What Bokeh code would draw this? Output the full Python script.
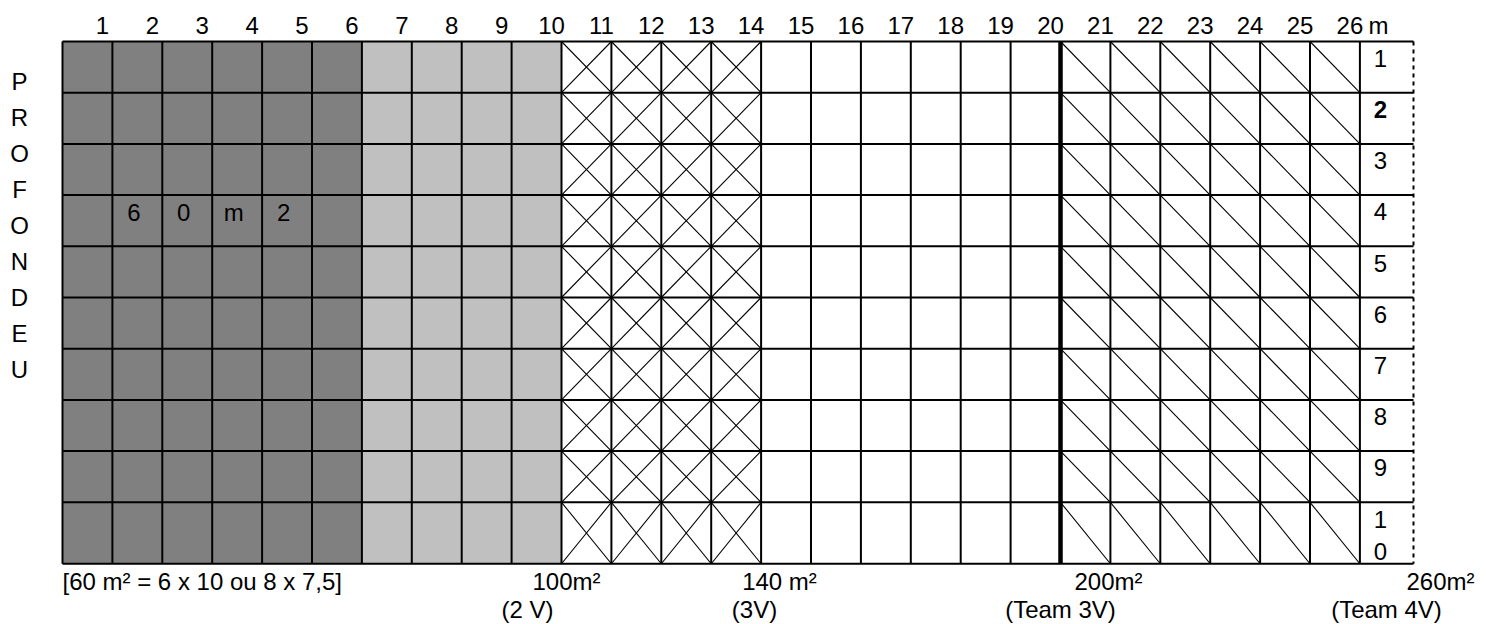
from bokeh.plotting import figure
from bokeh.models import Range1d
from bokeh.core.properties import value
from bokeh.embed import file_html
from bokeh.resources import INLINE

# ---------------- data ----------------
column_labels = [str(i) for i in range(1, 27)]
unit_label = "m"
zone_widths = [6, 4, 4, 6, 6]                      # columns per zone
zone_patterns = ["dark", "light", "cross", "plain", "diag"]
zone_colors = {"dark": "#808080", "light": "#C0C0C0", "cross": "#FFFFFF",
               "plain": "#FFFFFF", "diag": "#FFFFFF"}
depth_labels = [str(i) for i in range(1, 11)]
depth_bold = [False, True, False, False, False, False, False, False, False, False]
side_letters = list("PROFONDEU")
inner_chars = ["6", "0", "m", "2"]
area_labels = ["[60 m² = 6 x 10 ou 8 x 7,5]", "100m²", "140 m²", "200m²", "260m²"]
team_labels = ["(2 V)", "(3V)", "(Team 3V)", "(Team 4V)"]

# ---------------- layout ----------------
OFF = 0            # page offset of the figure (Bokeh template has no body margin)
W, H = 1486, 624
COLW, ROWH = 49.9, 51.2
LEFT, TOP = 62, 41
FONT = value("Liberation Sans")
FS = "24px"

n_cols = sum(zone_widths)
row_heights = [1.0] * 9 + [1.2]
row_edges = [0.0]
for h in row_heights:
    row_edges.append(row_edges[-1] + h)
bottom = row_edges[-1]
label_right = (1413 - LEFT) / COLW

def px_x(px):
    return (px - LEFT) / COLW

def px_y(py):
    return (py - TOP) / ROWH

p = figure(width=W, height=H, output_backend="svg", toolbar_location=None,
           x_range=Range1d(px_x(OFF), px_x(OFF + W)),
           y_range=Range1d(px_y(OFF + H), px_y(OFF)),
           x_axis_type=None, y_axis_type=None, min_border=0,
           outline_line_color=None, background_fill_color="white",
           border_fill_color="white")
p.xgrid.visible = False
p.ygrid.visible = False

# column pattern per column
col_pattern = []
for z, w in zip(zone_patterns, zone_widths):
    col_pattern += [z] * w

# fills
p.quad(left=list(range(n_cols)), right=[i + 1 for i in range(n_cols)],
       top=[0] * n_cols, bottom=[bottom] * n_cols,
       fill_color=[zone_colors[z] for z in col_pattern], line_color=None)

# diagonals
x0s, y0s, x1s, y1s = [], [], [], []
for i, z in enumerate(col_pattern):
    for r in range(len(row_heights)):
        t, b = row_edges[r], row_edges[r + 1]
        if z in ("cross", "diag"):
            x0s.append(i); y0s.append(t); x1s.append(i + 1); y1s.append(b)
        if z == "cross":
            x0s.append(i); y0s.append(b); x1s.append(i + 1); y1s.append(t)
p.segment(x0=x0s, y0=y0s, x1=x1s, y1=y1s, line_color="black", line_width=1.1)

# horizontal grid lines
p.segment(x0=[0] * len(row_edges), y0=row_edges,
          x1=[label_right] * len(row_edges), y1=row_edges,
          line_color="black", line_width=2)
# vertical grid lines
vx = list(range(n_cols + 1))
p.segment(x0=vx, y0=[0] * len(vx), x1=vx, y1=[bottom] * len(vx),
          line_color="black", line_width=2)
# thick separator at the 200 m² boundary
sep = sum(zone_widths[:4])
p.segment(x0=[sep], y0=[0], x1=[sep], y1=[bottom], line_color="black", line_width=4.5)
# dotted right edge
p.segment(x0=[label_right], y0=[0], x1=[label_right], y1=[bottom],
          line_color="black", line_width=2, line_dash="4 4")

def txt(xs, ys, texts, align="center", style="normal"):
    p.text(x=xs, y=ys, text=texts, text_font=FONT, text_font_size=FS,
           text_font_style=style, text_align=align, text_baseline="middle",
           text_color="black")

# top column labels
txt([i + 1 - 0.2 for i in range(n_cols)], [px_y(25)] * n_cols, column_labels)
txt([px_x(1378)], [px_y(25)], [unit_label])

# side letters
txt([px_x(19)] * len(side_letters),
    [px_y(81) + i * 36 / ROWH for i in range(len(side_letters))], side_letters)

# inner "6 0 m 2"
txt([1.43 + i for i in range(len(inner_chars))], [px_y(212)] * len(inner_chars), inner_chars)

# depth labels in the right column
dx, dy, dt, dstyle = [], [], [], []
for r, (lab, bold) in enumerate(zip(depth_labels, depth_bold)):
    for k, ch in enumerate(lab):
        dx.append(px_x(1380))
        dy.append(row_edges[r] + 0.33 + k * 32 / ROWH)
        dt.append(ch)
        dstyle.append("bold" if bold else "normal")
txt(dx, dy, dt, style=dstyle)

# bottom area labels
txt([0], [px_y(581)], [area_labels[0]], align="left")
txt([px_x(566), px_x(779), px_x(1108), px_x(1440)], [px_y(581)] * 4, area_labels[1:])
txt([px_x(527), px_x(754), px_x(1060), px_x(1386)], [px_y(609)] * 4, team_labels)

open("out.html", "w").write(file_html(p, INLINE))
